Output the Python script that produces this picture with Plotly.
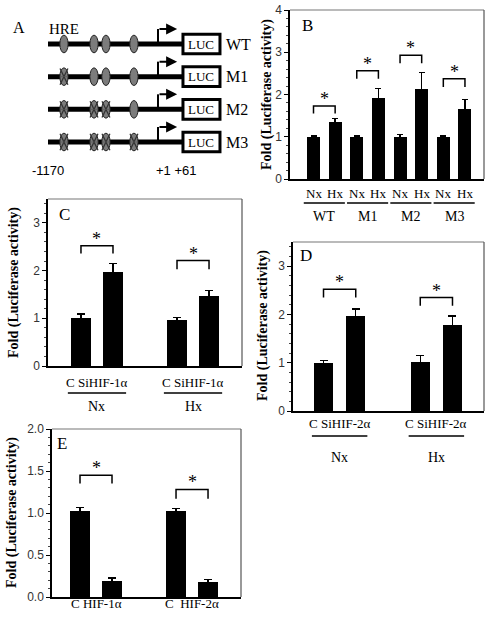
import plotly.graph_objects as go

W, H = 492, 622
SERIF = "Liberation Serif, Times New Roman, serif"
SANS = "Liberation Sans Narrow, Arial Narrow, Liberation Sans, Arial, sans-serif"

# ---------------- Panel A (promoter constructs) ----------------
constructs = ["WT", "M1", "M2", "M3"]
hre_pos = [-1000, -680, -553, -255]          # bp, approximate HRE sites
mutated = [
    [False, False, False, False],
    [True, False, False, False],
    [True, True, True, False],
    [True, True, True, True],
]
promoter_start = -1170
tss = 1
luc_start, luc_end = 267, 661                # schematic reporter box span

# ---------------- Panel B ----------------
b_ticks = ["Nx", "Hx", "Nx", "Hx", "Nx", "Hx", "Nx", "Hx"]
b_groups = ["WT", "M1", "M2", "M3"]
b_vals = [1.0, 1.35, 1.0, 1.92, 1.0, 2.12, 1.0, 1.65]
b_err = [0.02, 0.08, 0.02, 0.23, 0.05, 0.40, 0.02, 0.24]
b_brk_top = [1.73, 2.56, 2.93, 2.37]
b_brk_leg = [1.55, 2.37, 2.74, 2.18]

# ---------------- Panel C ----------------
c_pairs = ["C SiHIF-1α", "C SiHIF-1α"]
c_groups = ["Nx", "Hx"]
c_vals = [1.0, 1.96, 0.97, 1.47]
c_err = [0.09, 0.19, 0.05, 0.11]
c_brk_top = [2.52, 2.21]
c_brk_leg = [2.36, 2.03]

# ---------------- Panel D ----------------
d_pairs = ["C SiHIF-2α", "C SiHIF-2α"]
d_groups = ["Nx", "Hx"]
d_vals = [0.99, 1.97, 1.01, 1.78]
d_err = [0.05, 0.14, 0.14, 0.19]
d_brk_top = [2.52, 2.35]
d_brk_leg = [2.35, 2.18]

# ---------------- Panel E ----------------
e_pairs = ["C HIF-1α", "C\u00a0\u00a0HIF-2α"]
e_vals = [1.02, 0.19, 1.02, 0.18]
e_err = [0.045, 0.035, 0.035, 0.025]
e_brk_top = [1.45, 1.28]
e_brk_leg = [1.35, 1.17]


def px(x):
    return x / W


def py(y):
    return 1 - y / H


fig = go.Figure()
shapes = []
annos = []


def note(**kw):
    kw.setdefault("xanchor", "center")
    kw.setdefault("yanchor", "middle")
    kw.setdefault("showarrow", False)
    annos.append(kw)


# ======================= Panel A =======================
A_x, A_y = "x6", "y6"
for i, name in enumerate(constructs):
    shapes.append(dict(type="line", xref=A_x, yref=A_y, x0=promoter_start, x1=luc_start,
                       y0=i, y1=i, line=dict(color="black", width=5)))
    for p, m in zip(hre_pos, mutated[i]):
        shapes.append(dict(type="circle", xref=A_x, yref=A_y, x0=p - 44, x1=p + 44,
                           y0=i - 0.27, y1=i + 0.27, fillcolor="#7c7c7c",
                           line=dict(color="#222", width=1)))
        if m:
            for s in (1, -1):
                shapes.append(dict(type="line", xref=A_x, yref=A_y, x0=p - 42, x1=p + 42,
                                   y0=i - 0.25 * s, y1=i + 0.25 * s,
                                   line=dict(color="#333", width=1.3)))
            shapes.append(dict(type="line", xref=A_x, yref=A_y, x0=p - 42, x1=p + 42,
                               y0=i, y1=i, line=dict(color="#555", width=0.8)))
    # transcription start arrow
    shapes.append(dict(type="line", xref=A_x, yref=A_y, x0=tss, x1=tss, y0=i, y1=i - 0.46,
                       line=dict(color="black", width=2)))
    annos.append(dict(xref=A_x, yref=A_y, axref=A_x, ayref=A_y, x=205, y=i - 0.46,
                      ax=tss, ay=i - 0.46, text="", showarrow=True, arrowhead=2,
                      arrowsize=1.1, arrowwidth=2, arrowcolor="black", standoff=0,
                      startstandoff=0))
    # LUC box
    shapes.append(dict(type="rect", xref=A_x, yref=A_y, x0=luc_start, x1=luc_end,
                       y0=i - 0.3, y1=i + 0.3, fillcolor="white",
                       line=dict(color="black", width=3)))
    note(xref=A_x, yref=A_y, x=(luc_start + luc_end) / 2, y=i, text="LUC",
         font=dict(family=SERIF, size=13, color="black"))
    note(xref=A_x, yref=A_y, x=luc_end + 40, y=i, text=name, xanchor="left",
         font=dict(family=SERIF, size=16, color="black"))

note(xref=A_x, yref=A_y, x=hre_pos[0], y=-0.45, text="HRE",
     font=dict(family=SERIF, size=15, color="black"))
note(xref=A_x, yref=A_y, x=promoter_start, y=3.86, text="-1170",
     font=dict(family=SANS, size=13, color="black"))
note(xref=A_x, yref=A_y, x=tss, y=3.86, text="+1 +61", xanchor="left", xshift=-4,
     font=dict(family=SANS, size=13, color="black"))
note(xref="paper", yref="paper", x=px(19), y=py(27), text="A",
     font=dict(family=SERIF, size=16, color="black"))

fig.update_layout(
    xaxis6=dict(domain=[0, 0.5], range=[-1681, 938], visible=False, fixedrange=True,
                automargin=False),
    yaxis6=dict(domain=[py(190), 1], range=[4.469, -1.347], visible=False, anchor="x6",
                automargin=False),
)
# invisible anchor trace for panel A axes
fig.add_trace(go.Scatter(x=[promoter_start], y=[0], mode="markers", marker=dict(opacity=0),
                         xaxis="x6", yaxis="y6", showlegend=False, hoverinfo="skip"))

xdom_rng = {
    2: (-1.086, 7.88),
    3: (-1.03, 5.03),
    4: (-0.946, 4.977),
    5: (-0.875, 5.03),
}


# ======================= Bar panels =======================
def bar_panel(n, pos, vals, err, bw, tops, legs, pairs_l, pairs_r, xdom, ydom, yrange,
              dtick, tickfmt, minor_dt, capw):
    xa, ya = f"x{n}", f"y{n}"
    fig.add_trace(go.Bar(x=pos, y=vals, width=bw, marker=dict(color="black", line=dict(width=0)),
                         error_y=dict(type="data", array=err, color="black", thickness=1.3,
                                      width=capw),
                         xaxis=xa, yaxis=ya, showlegend=False))
    for t, lg, l, r in zip(tops, legs, pairs_l, pairs_r):
        fig.add_trace(go.Scatter(x=[l, l, r, r], y=[lg, t, t, lg], mode="lines",
                                 line=dict(color="black", width=1.5), xaxis=xa, yaxis=ya,
                                 showlegend=False, hoverinfo="skip"))
        note(xref=xa, yref=ya, x=(l + r) / 2, y=t, text="*", yanchor="bottom", yshift=-5,
             font=dict(family=SERIF, size=18, color="black"))
    fig.update_layout(**{
        f"xaxis{n}": dict(domain=xdom, anchor=ya, showline=True, linecolor="black",
                          linewidth=1.5, ticks="", showticklabels=False, showgrid=False,
                          zeroline=False, range=[xdom_rng[n][0], xdom_rng[n][1]],
                          automargin=False),
        f"yaxis{n}": dict(domain=ydom, anchor=xa, range=yrange, showline=True,
                          linecolor="black", linewidth=1.5, ticks="outside", ticklen=4,
                          tickwidth=1, tickcolor="black", dtick=dtick, tickformat=tickfmt,
                          tickfont=dict(family=SANS, size=12, color="#333"),
                          showgrid=False, zeroline=False, automargin=False,
                          minor=dict(ticks="outside", ticklen=2, dtick=minor_dt,
                                     tickcolor="#444", tickwidth=1)),
    })
    # gray frame top & right
    shapes.append(dict(type="line", xref=f"{xa} domain", yref=f"{ya} domain", x0=0, x1=1,
                       y0=1, y1=1, line=dict(color="#777", width=1.2)))
    shapes.append(dict(type="line", xref=f"{xa} domain", yref=f"{ya} domain", x0=1, x1=1,
                       y0=0, y1=1, line=dict(color="#555", width=1.2)))


TITLE = "<b>Fold (Luciferase activity)</b>"
TFONT = dict(family=SERIF, size=14, color="black")
LFONT = dict(family=SERIF, size=17, color="black")

# ---- B ----
b_pos = list(range(len(b_vals)))
bar_panel(2, b_pos, b_vals, b_err, 0.6, b_brk_top, b_brk_leg,
          [b_pos[2 * k] for k in range(4)], [b_pos[2 * k + 1] for k in range(4)],
          [px(290), px(484)], [py(179), py(10)], [0, 4], 1, None, 0.2, 3)
for p, t in zip(b_pos, b_ticks):
    note(xref="x2", yref="paper", x=p, y=py(193), text=t,
         font=dict(family=SERIF, size=13, color="black"))
for k, g in enumerate(b_groups):
    c = (b_pos[2 * k] + b_pos[2 * k + 1]) / 2
    shapes.append(dict(type="line", xref="x2", yref="paper", x0=c - 0.95, x1=c + 0.95,
                       y0=py(203), y1=py(203), line=dict(color="black", width=1.5)))
    note(xref="x2", yref="paper", x=c, y=py(216), text=g,
         font=dict(family=SERIF, size=14, color="black"))
note(xref="paper", yref="paper", x=px(267), y=py(95), text=TITLE, textangle=-90, font=TFONT)
note(xref="paper", yref="paper", x=px(307), y=py(25), text="B", font=LFONT)

pos4 = [0, 1, 3, 4]
pl = [pos4[0], pos4[2]]
pr = [pos4[1], pos4[3]]

# ---- C ----
bar_panel(3, pos4, c_vals, c_err, 0.62, c_brk_top, c_brk_leg, pl, pr,
          [px(48), px(242)], [py(366), py(199)], [0, 3.5], 1, None, 0.2, 4)
for k in range(2):
    c = (pl[k] + pr[k]) / 2
    note(xref="x3", yref="paper", x=c, y=py(383), text=c_pairs[k],
         font=dict(family=SERIF, size=13, color="black"))
    shapes.append(dict(type="line", xref="x3", yref="paper", x0=c - 0.91, x1=c + 0.91,
                       y0=py(393), y1=py(393), line=dict(color="black", width=1.5)))
    note(xref="x3", yref="paper", x=c, y=py(406), text=c_groups[k],
         font=dict(family=SERIF, size=14, color="black"))
note(xref="paper", yref="paper", x=px(14), y=py(283), text=TITLE, textangle=-90, font=TFONT)
note(xref="paper", yref="paper", x=px(64), y=py(214), text="C", font=LFONT)

# ---- D ----
bar_panel(4, pos4, d_vals, d_err, 0.59, d_brk_top, d_brk_leg, pl, pr,
          [px(293), px(484)], [py(411), py(242)], [0, 3.5], 1, None, 0.2, 4)
for k in range(2):
    c = (pl[k] + pr[k]) / 2
    note(xref="x4", yref="paper", x=c, y=py(423), text=d_pairs[k],
         font=dict(family=SERIF, size=13, color="black"))
    shapes.append(dict(type="line", xref="x4", yref="paper", x0=c - 0.86, x1=c + 0.86,
                       y0=py(436), y1=py(436), line=dict(color="black", width=1.5)))
    note(xref="x4", yref="paper", x=c, y=py(457), text=d_groups[k],
         font=dict(family=SERIF, size=14, color="black"))
note(xref="paper", yref="paper", x=px(263), y=py(326), text=TITLE, textangle=-90, font=TFONT)
note(xref="paper", yref="paper", x=px(306), y=py(255), text="D", font=LFONT)

# ---- E ----
bar_panel(5, pos4, e_vals, e_err, 0.62, e_brk_top, e_brk_leg, pl, pr,
          [px(52), px(241)], [py(597), py(429)], [0, 2.0], 0.5, ".1f", 0.1, 4)
for k in range(2):
    c = (pl[k] + pr[k]) / 2
    note(xref="x5", yref="paper", x=c, y=py(603), text=e_pairs[k],
         font=dict(family=SERIF, size=13, color="black"))
note(xref="paper", yref="paper", x=px(12), y=py(513), text=TITLE, textangle=-90, font=TFONT)
note(xref="paper", yref="paper", x=px(62), y=py(443), text="E", font=LFONT)

fig.update_layout(
    width=W, height=H, margin=dict(l=0, r=0, t=0, b=0, autoexpand=False),
    paper_bgcolor="white", plot_bgcolor="white",
    shapes=shapes, annotations=annos, showlegend=False, bargap=0,
)
fig.write_html("out.html", config={"displayModeBar": False},
               post_script="document.body.style.margin='0';document.body.style.padding='0';")
